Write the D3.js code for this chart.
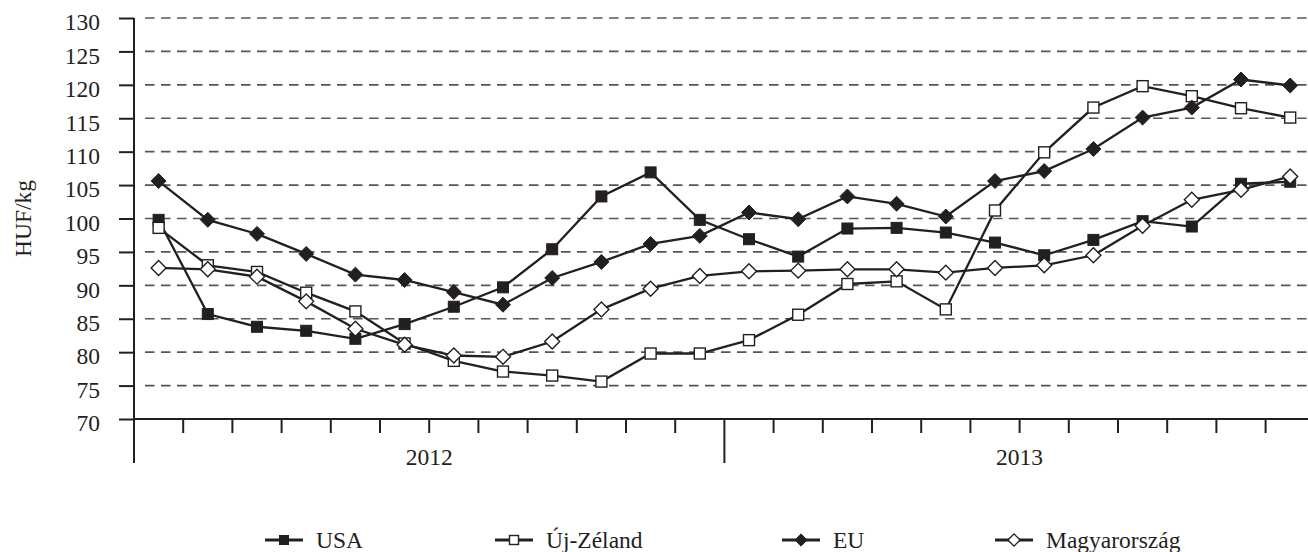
<!DOCTYPE html>
<html>
<head>
<meta charset="utf-8">
<script src="https://cdn.jsdelivr.net/npm/d3@7"></script>
<style>
  body { margin: 0; background: #fff; }
</style>
</head>
<body>
<svg id="chart" width="1308" height="552"></svg>
<script>
const years = ['2012', '2013'];
const months = d3.range(24).map((i) => `${years[Math.floor(i / 12)]}-${(i % 12) + 1}`);
const usa = [99.8, 85.7, 83.8, 83.2, 82.0, 84.2, 86.8, 89.7, 95.4, 103.3, 106.9, 99.8,
  96.9, 94.3, 98.5, 98.6, 97.9, 96.4, 94.5, 96.8, 99.6, 98.8, 105.2, 105.5];
const ujZeland = [98.6, 93.0, 92.0, 88.9, 86.1, 81.3, 78.7, 77.1, 76.5, 75.6, 79.8, 79.8,
  81.8, 85.6, 90.2, 90.6, 86.4, 101.2, 109.9, 116.6, 119.8, 118.3, 116.5, 115.1];
const eu = [105.6, 99.8, 97.7, 94.7, 91.6, 90.8, 89.0, 87.1, 91.1, 93.5, 96.2, 97.4,
  100.9, 99.9, 103.3, 102.2, 100.3, 105.6, 107.1, 110.4, 115.1, 116.6, 120.8, 119.9];
const magyar = [92.6, 92.4, 91.3, 87.6, 83.5, 81.1, 79.5, 79.3, 81.6, 86.4, 89.5, 91.4,
  92.1, 92.2, 92.4, 92.4, 91.9, 92.6, 93.0, 94.5, 98.9, 102.8, 104.3, 106.3];
const yTicks = d3.range(70, 131, 5);

const series = [
  { name: 'USA', values: usa, shape: 'square', filled: true },
  { name: 'Új-Zéland', values: ujZeland, shape: 'square', filled: false },
  { name: 'EU', values: eu, shape: 'diamond', filled: true },
  { name: 'Magyarország', values: magyar, shape: 'diamond', filled: false }
];

const ink = '#231f20';
const font = "'Liberation Serif', 'Times New Roman', Times, serif";
const fontSize = '23.5px';
const plotLeft = 134;
const plotTop = 18;
const plotBottom = 419;
const band = 49.2;

const svg = d3.select('#chart');

const x = d3.scaleBand().domain(months).range([plotLeft, plotLeft + band * months.length]);
const y = d3.scaleLinear().domain([70, 130]).range([plotBottom, plotTop]);

// dashed grid
svg.append('g')
  .selectAll('line')
  .data(yTicks.filter((d) => d > 70))
  .enter()
  .append('line')
  .attr('x1', plotLeft + 11)
  .attr('x2', 1308)
  .attr('y1', (d) => y(d))
  .attr('y2', (d) => y(d))
  .style('stroke', '#555')
  .style('stroke-width', 1.6)
  .style('stroke-dasharray', '9.5,6.5');

// y axis
const yAxis = svg.append('g')
  .attr('transform', `translate(${plotLeft},0)`)
  .call(d3.axisLeft(y).tickValues(yTicks).tickSize(15).tickPadding(19));
yAxis.attr('font-family', null).attr('font-size', null);
yAxis.select('.domain').remove();
yAxis.selectAll('line').style('stroke', ink).style('stroke-width', 2);
yAxis.selectAll('text')
  .style('font-size', fontSize)
  .style('font-family', font)
  .style('fill', ink)
  .attr('dy', '0.5em');

svg.append('line')
  .attr('x1', plotLeft).attr('x2', plotLeft)
  .attr('y1', plotTop).attr('y2', 463)
  .style('stroke', ink).style('stroke-width', 2);

svg.append('text')
  .attr('transform', `translate(31,${(plotTop + plotBottom) / 2}) rotate(-90)`)
  .attr('text-anchor', 'middle')
  .style('font-size', fontSize)
  .style('font-family', font)
  .style('fill', ink)
  .text('HUF/kg');

// x axis
svg.append('line')
  .attr('x1', plotLeft).attr('x2', 1308)
  .attr('y1', plotBottom).attr('y2', plotBottom)
  .style('stroke', ink).style('stroke-width', 2);

svg.append('g')
  .selectAll('line')
  .data(months.slice(1))
  .enter()
  .append('line')
  .attr('x1', (d) => x(d))
  .attr('x2', (d) => x(d))
  .attr('y1', plotBottom)
  .attr('y2', (d, i) => (i === 11 ? 463 : 433))
  .style('stroke', ink)
  .style('stroke-width', 2);

svg.append('g')
  .selectAll('text')
  .data(years)
  .enter()
  .append('text')
  .attr('x', (d, i) => x(months[i * 12]) + (band * 12) / 2)
  .attr('y', 465)
  .attr('text-anchor', 'middle')
  .style('font-size', fontSize)
  .style('font-family', font)
  .style('fill', ink)
  .text((d) => d);

// markers
function marker(g, shape, filled, size) {
  if (shape === 'square') {
    g.append('rect')
      .attr('x', -size / 2).attr('y', -size / 2)
      .attr('width', size).attr('height', size);
  } else {
    const r = size * 0.68;
    g.append('path').attr('d', `M0,${-r}L${r},0L0,${r}L${-r},0Z`);
  }
  g.selectAll('rect,path')
    .style('fill', filled ? ink : '#fff')
    .style('stroke', ink)
    .style('stroke-width', filled ? 1 : 1.4);
}

const line = d3.line()
  .x((d, i) => x(months[i]) + x.bandwidth() / 2)
  .y((d) => y(d));

series.forEach((s) => {
  svg.append('path')
    .datum(s.values)
    .attr('d', line)
    .style('fill', 'none')
    .style('stroke', ink)
    .style('stroke-width', 2.3);
});

series.forEach((s) => {
  svg.append('g')
    .selectAll('g')
    .data(s.values)
    .enter()
    .append('g')
    .attr('transform', (d, i) => `translate(${x(months[i]) + x.bandwidth() / 2},${y(d)})`)
    .each(function () {
      marker(d3.select(this), s.shape, s.filled, 11);
    });
});

// legend
const legendX = [265, 495, 782, 995];
const legend = svg.append('g')
  .selectAll('g')
  .data(series)
  .enter()
  .append('g')
  .attr('transform', (d, i) => `translate(${legendX[i]},540)`);

legend.append('line')
  .attr('x1', 0).attr('x2', 38)
  .style('stroke', ink).style('stroke-width', 3);

legend.append('g')
  .attr('transform', 'translate(19,0)')
  .each(function (d) {
    marker(d3.select(this), d.shape, d.filled, 9);
  });

legend.append('text')
  .attr('x', 51)
  .attr('y', 8)
  .style('font-size', fontSize)
  .style('font-family', font)
  .style('fill', ink)
  .text((d) => d.name);
</script>
</body>
</html>
